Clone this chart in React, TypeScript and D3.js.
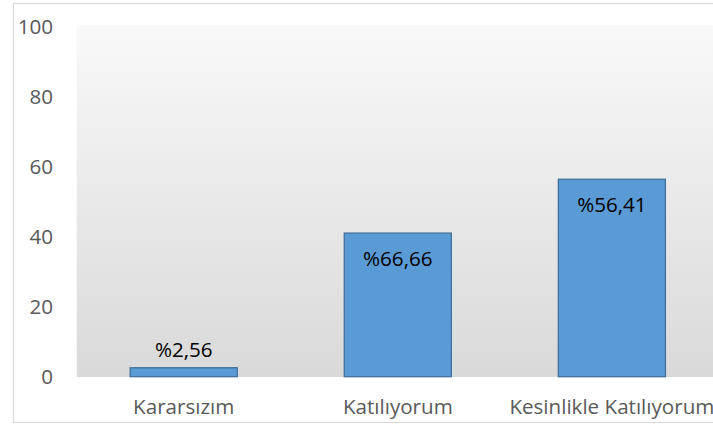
import React from "react";
import * as d3 from "d3";

const categories = ["Kararsızım", "Katılıyorum", "Kesinlikle Katılıyorum"];
const values = [2.56, 41.03, 56.41];
const valueLabels = ["%2,56", "%66,66", "%56,41"];
const yTicks = [0, 20, 40, 60, 80, 100];

const W = 713;
const H = 425;
const FONT = "'Open Sans', 'Liberation Sans', sans-serif";
const FS = 20.6;

export default function App() {
  const plot = { left: 76.7, right: 718.9, top: 25, bottom: 377 };

  const x = d3
    .scaleBand<string>()
    .domain(categories)
    .range([plot.left, plot.right])
    .paddingInner(0.5)
    .paddingOuter(0.25);
  const y = d3.scaleLinear().domain([0, 100]).range([376.7, 26.7]);

  return (
    <svg
      width={W}
      height={H}
      style={{ position: "absolute", left: 0, top: 0, background: "#fff" }}
      fontFamily={FONT}
    >
      <defs>
        <linearGradient id="plotBg" x1="0" y1="0" x2="0" y2="1">
          <stop offset="0%" stopColor="#f9f9f9" />
          <stop offset="100%" stopColor="#d9d9d9" />
        </linearGradient>
      </defs>
      {/* chart border */}
      <rect x={13.5} y={3.5} width={W + 10} height={419} fill="#fff" stroke="#d9d9d9" strokeWidth={1.2} />
      {/* plot area */}
      <rect
        x={plot.left}
        y={plot.top}
        width={plot.right - plot.left}
        height={plot.bottom - plot.top}
        fill="url(#plotBg)"
      />
      {yTicks.map((t) => (
        <text
          key={t}
          x={53}
          y={y(t)}
          dy="0.36em"
          textAnchor="end"
          fontSize={FS}
          fill="#595959"
        >
          {t}
        </text>
      ))}
      {categories.map((c, i) => {
        const bx = x(c) as number;
        const bw = x.bandwidth();
        const top = y(values[i]);
        const inside = values[i] > 20;
        return (
          <g key={c}>
            <rect
              x={bx}
              y={top}
              width={bw}
              height={y(0) - top}
              fill="#5b9bd5"
              stroke="#41719c"
              strokeWidth={1.3}
            />
            <text
              x={bx + bw / 2}
              y={inside ? top + 33 : top - 11}
              textAnchor="middle"
              fontSize={FS}
              fill="#000"
            >
              {valueLabels[i]}
            </text>
            <text
              x={bx + bw / 2}
              y={414}
              textAnchor="middle"
              fontSize={FS}
              fill="#595959"
            >
              {c}
            </text>
          </g>
        );
      })}
    </svg>
  );
}
